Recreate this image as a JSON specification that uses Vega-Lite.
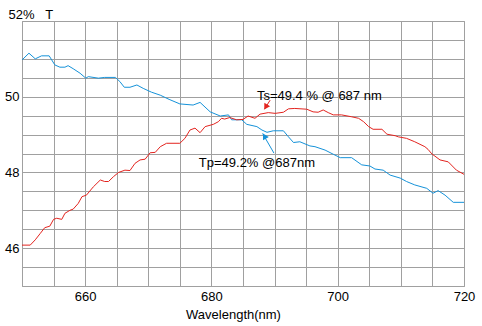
{
  "$schema": "https://vega.github.io/schema/vega-lite/v6.json",
  "width": 442,
  "height": 265,
  "autosize": {"type": "none"},
  "padding": {"left": 22, "top": 21, "right": 18, "bottom": 40},
  "background": "white",
  "config": {
    "view": {"stroke": "#a0a0a0", "strokeWidth": 1},
    "font": "Liberation Sans",
    "axis": {
      "grid": true, "gridColor": "#a0a0a0", "gridWidth": 1, "gridOpacity": 1,
      "ticks": false, "domain": false,
      "labelFont": "Liberation Sans", "labelFontSize": 13, "labelColor": "#000000",
      "titleFont": "Liberation Sans", "titleFontSize": 13, "titleFontWeight": "normal", "titleColor": "#000000"
    }
  },
  "datasets": {
    "tp": [
      {"nm": 650.0, "v": 50.97}, {"nm": 651.1, "v": 51.15}, {"nm": 652.1, "v": 51.0}, {"nm": 653.1, "v": 51.08},
      {"nm": 654.3, "v": 51.08}, {"nm": 655.2, "v": 50.84}, {"nm": 656.0, "v": 50.78}, {"nm": 656.8, "v": 50.78},
      {"nm": 657.3, "v": 50.82}, {"nm": 658.1, "v": 50.74}, {"nm": 659.2, "v": 50.62}, {"nm": 660.1, "v": 50.49},
      {"nm": 660.5, "v": 50.53}, {"nm": 662.1, "v": 50.49}, {"nm": 663.1, "v": 50.51}, {"nm": 664.8, "v": 50.51},
      {"nm": 665.5, "v": 50.4}, {"nm": 666.2, "v": 50.25}, {"nm": 667.1, "v": 50.25}, {"nm": 668.2, "v": 50.31},
      {"nm": 669.2, "v": 50.22}, {"nm": 670.5, "v": 50.12}, {"nm": 671.9, "v": 50.04}, {"nm": 673.3, "v": 49.93},
      {"nm": 675.0, "v": 49.81}, {"nm": 677.1, "v": 49.78}, {"nm": 678.2, "v": 49.85}, {"nm": 679.8, "v": 49.6},
      {"nm": 681.4, "v": 49.49}, {"nm": 682.7, "v": 49.52}, {"nm": 683.2, "v": 49.39}, {"nm": 684.8, "v": 49.39},
      {"nm": 685.6, "v": 49.27}, {"nm": 687.2, "v": 49.21}, {"nm": 688.0, "v": 49.12}, {"nm": 688.8, "v": 49.06},
      {"nm": 689.8, "v": 49.1}, {"nm": 691.4, "v": 49.1}, {"nm": 692.2, "v": 48.94}, {"nm": 693.0, "v": 48.79},
      {"nm": 694.0, "v": 48.81}, {"nm": 695.6, "v": 48.7}, {"nm": 696.4, "v": 48.68}, {"nm": 698.0, "v": 48.59},
      {"nm": 699.3, "v": 48.48}, {"nm": 700.4, "v": 48.39}, {"nm": 702.2, "v": 48.39}, {"nm": 703.8, "v": 48.2},
      {"nm": 705.1, "v": 48.17}, {"nm": 705.9, "v": 48.09}, {"nm": 707.2, "v": 48.06}, {"nm": 708.3, "v": 47.93},
      {"nm": 709.9, "v": 47.85}, {"nm": 710.9, "v": 47.76}, {"nm": 712.2, "v": 47.67}, {"nm": 714.1, "v": 47.58},
      {"nm": 715.1, "v": 47.45}, {"nm": 715.9, "v": 47.52}, {"nm": 717.0, "v": 47.4}, {"nm": 718.3, "v": 47.21},
      {"nm": 720.0, "v": 47.21}
    ],
    "ts": [
      {"nm": 650.0, "v": 46.08}, {"nm": 651.3, "v": 46.08}, {"nm": 652.1, "v": 46.22}, {"nm": 652.9, "v": 46.39},
      {"nm": 653.6, "v": 46.54}, {"nm": 654.4, "v": 46.58}, {"nm": 655.0, "v": 46.76}, {"nm": 655.5, "v": 46.79},
      {"nm": 656.3, "v": 46.76}, {"nm": 656.8, "v": 46.92}, {"nm": 657.6, "v": 47.0}, {"nm": 658.1, "v": 47.03},
      {"nm": 658.9, "v": 47.18}, {"nm": 659.5, "v": 47.36}, {"nm": 660.2, "v": 47.4}, {"nm": 661.3, "v": 47.62},
      {"nm": 662.4, "v": 47.8}, {"nm": 663.1, "v": 47.76}, {"nm": 663.7, "v": 47.76}, {"nm": 664.5, "v": 47.89},
      {"nm": 665.3, "v": 48.0}, {"nm": 666.3, "v": 48.06}, {"nm": 667.1, "v": 48.05}, {"nm": 667.9, "v": 48.24},
      {"nm": 668.7, "v": 48.33}, {"nm": 669.5, "v": 48.35}, {"nm": 670.3, "v": 48.52}, {"nm": 671.1, "v": 48.53},
      {"nm": 671.9, "v": 48.68}, {"nm": 672.9, "v": 48.77}, {"nm": 675.0, "v": 48.77}, {"nm": 675.8, "v": 48.9},
      {"nm": 676.6, "v": 49.12}, {"nm": 677.4, "v": 49.17}, {"nm": 678.2, "v": 49.05}, {"nm": 679.0, "v": 49.21},
      {"nm": 680.3, "v": 49.27}, {"nm": 681.1, "v": 49.34}, {"nm": 681.6, "v": 49.43}, {"nm": 682.1, "v": 49.41},
      {"nm": 682.9, "v": 49.45}, {"nm": 684.0, "v": 49.39}, {"nm": 685.0, "v": 49.4}, {"nm": 685.8, "v": 49.49},
      {"nm": 686.9, "v": 49.43}, {"nm": 687.7, "v": 49.54}, {"nm": 689.0, "v": 49.58}, {"nm": 690.1, "v": 49.56},
      {"nm": 691.4, "v": 49.59}, {"nm": 692.2, "v": 49.68}, {"nm": 693.2, "v": 49.69}, {"nm": 695.1, "v": 49.67},
      {"nm": 696.1, "v": 49.6}, {"nm": 696.9, "v": 49.59}, {"nm": 697.7, "v": 49.65}, {"nm": 698.5, "v": 49.58},
      {"nm": 699.3, "v": 49.52}, {"nm": 700.6, "v": 49.52}, {"nm": 702.2, "v": 49.47}, {"nm": 703.3, "v": 49.43},
      {"nm": 704.1, "v": 49.34}, {"nm": 704.9, "v": 49.21}, {"nm": 705.6, "v": 49.14}, {"nm": 707.0, "v": 49.14},
      {"nm": 707.8, "v": 49.01}, {"nm": 709.1, "v": 48.97}, {"nm": 709.6, "v": 48.94}, {"nm": 710.9, "v": 48.9},
      {"nm": 712.2, "v": 48.81}, {"nm": 713.8, "v": 48.68}, {"nm": 714.3, "v": 48.61}, {"nm": 714.9, "v": 48.49},
      {"nm": 715.4, "v": 48.43}, {"nm": 716.2, "v": 48.33}, {"nm": 717.5, "v": 48.28}, {"nm": 718.8, "v": 48.06},
      {"nm": 720.0, "v": 47.95}
    ],
    "notes": [
      {"nm": 687.2, "v": 50.02, "t": "Ts=49.4 % @ 687 nm"},
      {"nm": 678.0, "v": 48.25, "t": "Tp=49.2% @687nm"}
    ],
    "arrows": [
      {"nm": 689.3, "v": 49.91, "nm2": 688.4, "v2": 49.67, "hx": 688.6, "hy": 49.73, "ang": 211, "s": "Ts"},
      {"nm": 689.9, "v": 48.51, "nm2": 688.1, "v2": 49.03, "hx": 688.4, "hy": 48.96, "ang": 330, "s": "Tp"}
    ]
  },
  "encoding": {
    "x": {
      "field": "nm", "type": "quantitative",
      "scale": {"domain": [650, 720], "nice": false, "zero": false},
      "axis": {
        "values": [650, 655, 660, 665, 670, 675, 680, 685, 690, 695, 700, 705, 710, 715, 720],
        "format": "d",
        "labelExpr": "(datum.value % 20 == 0 && datum.value > 650) ? datum.label : ''",
        "labelPadding": 4,
        "labelFlush": false,
        "title": "Wavelength(nm)",
        "titleX": 211, "titleY": 22, "titleBaseline": "top", "titleAlign": "center"
      }
    },
    "y": {
      "field": "v", "type": "quantitative",
      "scale": {"domain": [45, 52], "nice": false, "zero": false},
      "axis": {
        "values": [45, 45.5, 46, 46.5, 47, 47.5, 48, 48.5, 49, 49.5, 50, 50.5, 51, 51.5, 52],
        "format": ".0f",
        "labelExpr": "(datum.value == 46 || datum.value == 48 || datum.value == 50) ? datum.label : ''",
        "labelPadding": 3,
        "labelFlush": false,
        "title": "52%\u00a0\u00a0\u00a0T",
        "titleAngle": 0, "titleAlign": "left", "titleBaseline": "middle",
        "titleX": -14, "titleY": -7
      }
    }
  },
  "layer": [
    {"data": {"name": "tp"}, "mark": {"type": "line", "color": "#1592d9", "strokeWidth": 1, "interpolate": "linear"}},
    {"data": {"name": "ts"}, "mark": {"type": "line", "color": "#e3241f", "strokeWidth": 1, "interpolate": "linear"}},
    {
      "data": {"name": "arrows"},
      "mark": {"type": "rule", "strokeWidth": 1},
      "encoding": {
        "x2": {"field": "nm2"}, "y2": {"field": "v2"},
        "color": {"field": "s", "type": "nominal", "scale": {"domain": ["Tp", "Ts"], "range": ["#1592d9", "#e3241f"]}, "legend": null}
      }
    },
    {
      "data": {"name": "arrows"},
      "mark": {"type": "point", "shape": "triangle-up", "filled": true, "opacity": 1, "size": 45},
      "encoding": {
        "x": {"field": "hx", "type": "quantitative"},
        "y": {"field": "hy", "type": "quantitative"},
        "angle": {"field": "ang", "type": "quantitative", "scale": null},
        "color": {"field": "s", "type": "nominal", "scale": {"domain": ["Tp", "Ts"], "range": ["#1592d9", "#e3241f"]}, "legend": null}
      }
    },
    {
      "data": {"name": "notes"},
      "mark": {"type": "text", "align": "left", "baseline": "middle", "fontSize": 13, "font": "Liberation Sans", "color": "#000000"},
      "encoding": {"text": {"field": "t"}}
    }
  ]
}
